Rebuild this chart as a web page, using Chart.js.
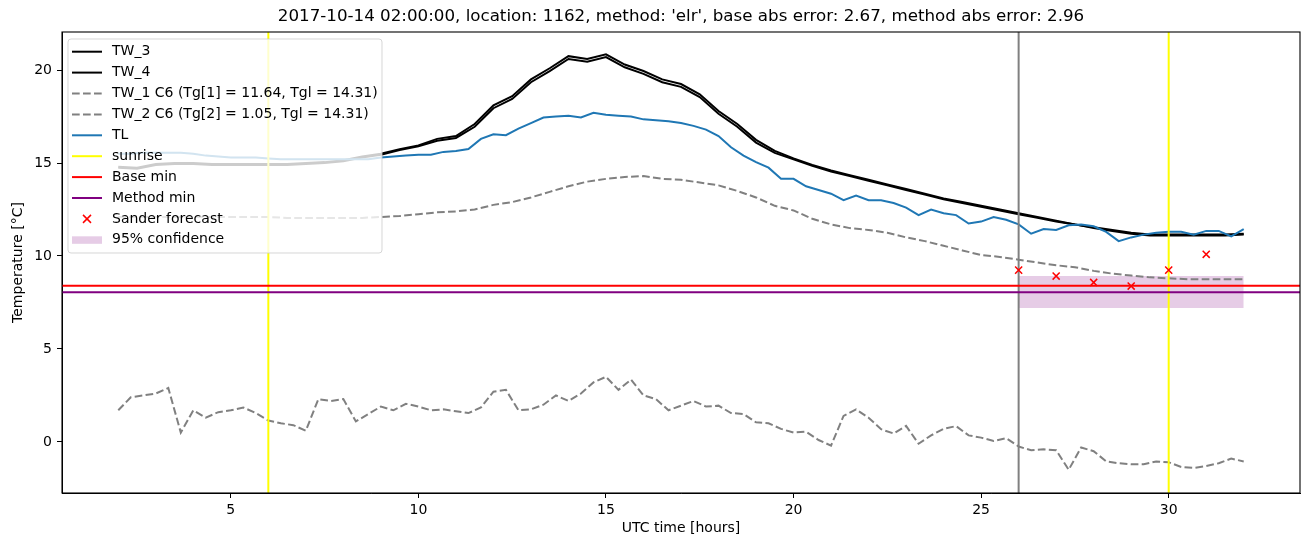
<!DOCTYPE html>
<html lang="en">
<head>
<meta charset="UTF-8">
<title>elr forecast, location 1162</title>
<script src="https://cdn.jsdelivr.net/npm/chart.js"></script>
<style>
    body { margin: 0; background: #fff; }
    #wrap { width: 1310px; height: 547px; position: relative; }
</style>
</head>
<body>
<div id="wrap"><canvas id="tempChart"></canvas></div>
<script>
// time stamps in hours UTC (half hour and 20 minute series)
const hoursHalf = Array.from({ length: 61 }, (_, i) => 2 + i * 0.5);
const hours20 = Array.from({ length: 91 }, (_, i) => 2 + i / 3);

const tw3 = [14.8,14.75,14.95,15.0,15.0,14.95,14.95,14.95,14.95,14.95,15.0,15.05,15.15,15.35,15.5,15.75,15.95,16.3,16.45,17.1,
    18.1,18.6,19.5,20.1,20.75,20.6,20.85,20.3,19.95,19.5,19.25,18.7,17.8,17.1,16.25,15.65,15.25,14.9,14.6,14.35,
    14.1,13.85,13.6,13.35,13.1,12.9,12.7,12.5,12.3,12.1,11.9,11.7,11.55,11.4,11.25,11.15,11.15,11.15,11.15,11.15,11.2];
const tw4 = [14.75,14.7,14.9,14.95,14.95,14.9,14.9,14.9,14.9,14.9,14.95,15.0,15.1,15.3,15.45,15.7,15.9,16.2,16.35,16.95,
    17.95,18.45,19.35,19.95,20.6,20.45,20.7,20.15,19.8,19.35,19.1,18.55,17.65,16.95,16.1,15.55,15.2,14.85,14.55,14.3,
    14.05,13.8,13.55,13.3,13.05,12.85,12.65,12.45,12.25,12.05,11.85,11.7,11.5,11.35,11.2,11.1,11.1,11.1,11.1,11.1,11.15];
const tw1 = [12.1,12.1,12.1,12.1,12.1,12.1,12.1,12.1,12.1,12.05,12.05,12.05,12.05,12.05,12.1,12.15,12.25,12.35,12.4,12.5,
    12.75,12.9,13.15,13.45,13.75,14.0,14.15,14.25,14.3,14.15,14.1,13.95,13.8,13.5,13.15,12.7,12.45,12.0,11.7,11.5,
    11.4,11.25,11.0,10.8,10.55,10.3,10.05,9.95,9.8,9.65,9.5,9.4,9.2,9.05,8.95,8.85,8.8,8.75,8.75,8.75,8.75];
const tl = [15.5,15.5,15.55,15.55,15.55,15.55,15.5,15.4,15.35,15.3,15.3,15.3,15.25,15.2,15.2,15.2,15.2,15.2,15.2,15.2,
    15.2,15.3,15.35,15.4,15.45,15.45,15.6,15.65,15.75,16.3,16.55,16.5,16.85,17.15,17.45,17.5,17.55,17.45,17.7,17.6,
    17.55,17.5,17.35,17.3,17.25,17.15,17.0,16.8,16.45,15.85,15.4,15.05,14.75,14.15,14.15,13.75,13.55,13.35,13.0,13.25,
    13.0,13.0,12.85,12.6,12.2,12.5,12.3,12.2,11.75,11.85,12.1,11.95,11.7,11.2,11.45,11.4,11.65,11.7,11.6,11.3,
    10.8,11.0,11.15,11.25,11.3,11.3,11.15,11.35,11.35,11.05,11.45];
const tw2 = [1.7,2.4,2.5,2.6,2.9,0.5,1.7,1.3,1.6,1.7,1.85,1.55,1.15,1.0,0.9,0.6,2.3,2.2,2.3,1.1,
    1.5,1.9,1.7,2.05,1.9,1.7,1.75,1.65,1.55,1.85,2.7,2.8,1.7,1.75,2.0,2.5,2.2,2.6,3.2,3.5,
    2.8,3.35,2.5,2.3,1.7,1.95,2.2,1.9,1.95,1.55,1.5,1.05,1.0,0.7,0.5,0.55,0.1,-0.2,1.4,1.75,
    1.3,0.68,0.45,0.86,-0.1,0.35,0.7,0.85,0.35,0.23,0.05,0.2,-0.25,-0.45,-0.4,-0.45,-1.5,-0.3,-0.5,-1.05,
    -1.15,-1.2,-1.2,-1.05,-1.1,-1.35,-1.4,-1.3,-1.15,-0.9,-1.05];

const sanderHours = [26, 27, 28, 29, 30, 31];
const sanderTemps = [9.24, 8.92, 8.58, 8.38, 9.24, 10.09];

const sunriseHours = [6, 30];
const forecastStart = 26;
const baseMin = 8.4;
const methodMin = 8.05;
const confHours = [26, 32];
const confLow = 7.2;
const confHigh = 8.92;

const xTicks = [5, 10, 15, 20, 25, 30];
const yTicks = [0, 5, 10, 15, 20];
const xRange = [0.5, 33.5];
const yRange = [-2.75, 22.05];

const titleText = "2017-10-14 02:00:00, location: 1162, method: 'elr', base abs error: 2.67, method abs error: 2.96";

const pts = (xs, ys) => xs.map((x, i) => ({ x: x, y: ys[i] }));
const dash = [7.7, 3.3];

const legendItems = [
    { label: 'TW_3', kind: 'line', color: '#000000' },
    { label: 'TW_4', kind: 'line', color: '#000000' },
    { label: 'TW_1 C6 (Tg[1] = 11.64, Tgl = 14.31)', kind: 'dash', color: '#808080' },
    { label: 'TW_2 C6 (Tg[2] = 1.05, Tgl = 14.31)', kind: 'dash', color: '#808080' },
    { label: 'TL', kind: 'line', color: '#1f77b4' },
    { label: 'sunrise', kind: 'line', color: '#ffff00' },
    { label: 'Base min', kind: 'line', color: '#ff0000' },
    { label: 'Method min', kind: 'line', color: '#800080' },
    { label: 'Sander forecast', kind: 'cross', color: '#ff0000' },
    { label: '95% confidence', kind: 'patch', color: 'rgba(128,0,128,0.2)' }
];

// title, full frame and legend box drawn on top
const overlay = {
    id: 'overlay',
    afterDraw(chart) {
        const ctx = chart.ctx;
        const a = chart.chartArea;
        ctx.save();
        ctx.fillStyle = '#000';
        ctx.font = '16.7px "DejaVu Sans"';
        ctx.textAlign = 'center';
        ctx.textBaseline = 'middle';
        ctx.fillText(titleText, (a.left + a.right) / 2, 17);

        ctx.strokeStyle = '#000';
        ctx.lineWidth = 1.1;
        ctx.strokeRect(a.left, a.top, a.right - a.left, a.bottom - a.top);

        // legend
        const lx = 68, ly = 39, lw = 314, lh = 214, r = 3;
        ctx.beginPath();
        ctx.moveTo(lx + r, ly);
        ctx.arcTo(lx + lw, ly, lx + lw, ly + lh, r);
        ctx.arcTo(lx + lw, ly + lh, lx, ly + lh, r);
        ctx.arcTo(lx, ly + lh, lx, ly, r);
        ctx.arcTo(lx, ly, lx + lw, ly, r);
        ctx.closePath();
        ctx.fillStyle = 'rgba(255,255,255,0.8)';
        ctx.fill();
        ctx.strokeStyle = 'rgba(204,204,204,0.8)';
        ctx.lineWidth = 1;
        ctx.stroke();

        ctx.font = '14px "DejaVu Sans"';
        ctx.textAlign = 'left';
        legendItems.forEach((it, i) => {
            const y = 51.7 + i * 20.9;
            ctx.strokeStyle = it.color;
            ctx.fillStyle = it.color;
            ctx.lineWidth = 2;
            ctx.setLineDash(it.kind === 'dash' ? dash : []);
            if (it.kind === 'line' || it.kind === 'dash') {
                ctx.beginPath();
                ctx.moveTo(72, y);
                ctx.lineTo(102, y);
                ctx.stroke();
            } else if (it.kind === 'cross') {
                ctx.lineWidth = 1.5;
                ctx.beginPath();
                ctx.moveTo(83, y - 4); ctx.lineTo(91, y + 4);
                ctx.moveTo(91, y - 4); ctx.lineTo(83, y + 4);
                ctx.stroke();
            } else {
                ctx.fillRect(72, y - 3.5, 30, 7.5);
            }
            ctx.setLineDash([]);
            ctx.fillStyle = '#000';
            ctx.fillText(it.label, 112, y);
        });
        ctx.restore();
    }
};

Chart.defaults.font.family = '"DejaVu Sans", sans-serif';
Chart.defaults.color = '#000';

const lineDefaults = { pointRadius: 0, tension: 0, fill: false, borderWidth: 2 };

new Chart(document.getElementById('tempChart'), {
    type: 'line',
    data: {
        datasets: [
            { ...lineDefaults, label: '95% confidence', data: pts(confHours, [confHigh, confHigh]),
              borderWidth: 0, borderColor: 'rgba(0,0,0,0)', backgroundColor: 'rgba(128,0,128,0.2)',
              fill: { value: confLow }, order: 10 },
            { ...lineDefaults, label: 'TW_3', data: pts(hoursHalf, tw3), borderColor: '#000000', order: 9 },
            { ...lineDefaults, label: 'TW_4', data: pts(hoursHalf, tw4), borderColor: '#000000', order: 8 },
            { ...lineDefaults, label: 'TW_1', data: pts(hoursHalf, tw1), borderColor: '#808080', borderDash: dash, order: 7 },
            { ...lineDefaults, label: 'TW_2', data: pts(hours20, tw2), borderColor: '#808080', borderDash: dash, order: 6 },
            { ...lineDefaults, label: 'TL', data: pts(hours20, tl), borderColor: '#1f77b4', order: 5 },
            { ...lineDefaults, label: 'sunrise', data: pts([sunriseHours[0], sunriseHours[0]], yRange), borderColor: '#ffff00', order: 4 },
            { ...lineDefaults, label: 'sunrise2', data: pts([sunriseHours[1], sunriseHours[1]], yRange), borderColor: '#ffff00', order: 4 },
            { ...lineDefaults, label: 'start', data: pts([forecastStart, forecastStart], yRange), borderColor: '#808080', order: 4 },
            { ...lineDefaults, label: 'Base min', data: pts(xRange, [baseMin, baseMin]), borderColor: '#ff0000', order: 3 },
            { ...lineDefaults, label: 'Method min', data: pts(xRange, [methodMin, methodMin]), borderColor: '#800080', order: 2 },
            { label: 'Sander forecast', data: pts(sanderHours, sanderTemps), showLine: false,
              pointStyle: 'crossRot', pointRadius: 5, borderColor: '#ff0000', borderWidth: 1.5, order: 1 }
        ]
    },
    options: {
        responsive: true,
        maintainAspectRatio: false,
        animation: false,
        layout: { padding: { top: 32, right: 10, left: 0, bottom: 0 } },
        plugins: { legend: { display: false }, tooltip: { enabled: false } },
        scales: {
            x: {
                type: 'linear',
                min: xRange[0], max: xRange[1],
                afterFit: s => { s.height = 54; },
                afterBuildTicks: s => { s.ticks = xTicks.map(v => ({ value: v })); },
                grid: { drawOnChartArea: false, tickLength: 5, color: '#000' },
                border: { color: '#000' },
                ticks: { font: { size: 14 }, color: '#000', padding: 4, maxRotation: 0 },
                title: { display: true, text: 'UTC time [hours]', font: { size: 14 }, padding: { top: 0, bottom: 10 } }
            },
            y: {
                min: yRange[0], max: yRange[1],
                afterFit: s => { s.width = 62; },
                afterBuildTicks: s => { s.ticks = yTicks.map(v => ({ value: v })); },
                grid: { drawOnChartArea: false, tickLength: 5, color: '#000' },
                border: { color: '#000' },
                ticks: { font: { size: 14 }, color: '#000', padding: 5 },
                title: { display: true, text: 'Temperature [°C]', font: { size: 14 }, padding: { top: 10, bottom: 0 } }
            }
        }
    },
    plugins: [overlay]
});
</script>
</body>
</html>
